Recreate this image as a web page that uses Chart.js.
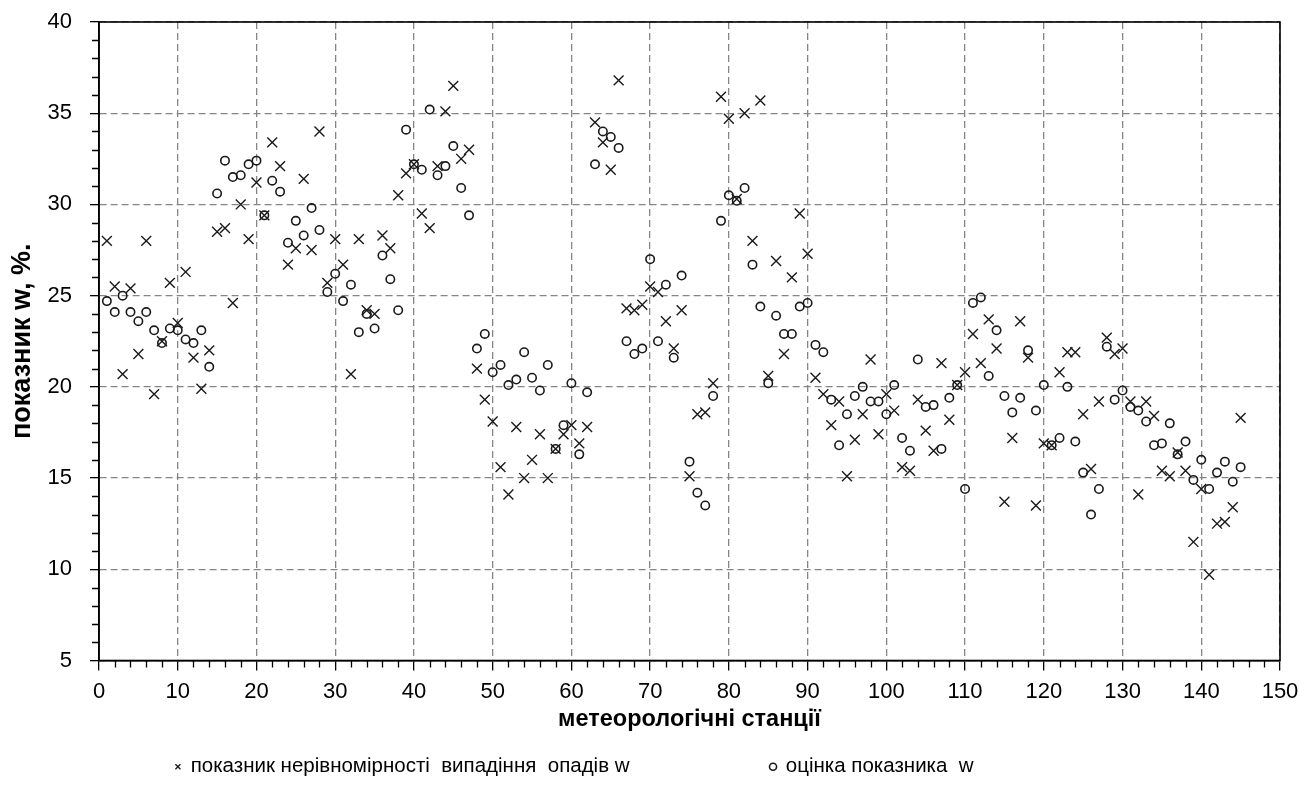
<!DOCTYPE html>
<html>
<head>
<meta charset="utf-8">
<script src="https://cdn.jsdelivr.net/npm/chart.js@4.4.1/dist/chart.umd.min.js"></script>
<style>
  html, body { margin: 0; padding: 0; background: #fff; }
  canvas { display: block; }
</style>
</head>
<body>
<canvas id="chart" width="1313" height="805"></canvas>
<script>
// номери метеостанцій (1..145)
var stations = Array.from({length: 145}, function (_, i) { return i + 1; });

// показник нерівномірності випадіння опадів w, %
var wValues = [
  28.0, 25.5, 20.7, 25.4, 21.8, 28.0, 19.6, 22.5, 25.7, 23.5,
  26.3, 21.6, 19.9, 22.0, 28.5, 28.7, 24.6, 30.0, 28.1, 31.2,
  29.4, 33.4, 32.1, 26.7, 27.6, 31.4, 27.5, 34.0, 25.7, 28.1,
  26.7, 20.7, 28.1, 24.2, 24.0, 28.3, 27.6, 30.5, 31.7, 32.2,
  29.5, 28.7, 32.1, 35.1, 36.5, 32.5, 33.0, 21.0, 19.3, 18.1,
  15.6, 14.1, 17.8, 15.0, 16.0, 17.4, 15.0, 16.6, 17.4, 17.9,
  16.9, 17.8, 34.5, 33.4, 31.9, 36.8, 24.3, 24.2, 24.5, 25.5,
  25.2, 23.6, 22.1, 24.2, 15.1, 18.5, 18.6, 20.2, 35.9, 34.7,
  30.3, 35.0, 28.0, 35.7, 20.6, 26.9, 21.8, 26.0, 29.5, 27.3,
  20.5, 19.6, 17.9, 19.2, 15.1, 17.1, 18.5, 21.5, 17.4, 19.6,
  18.7, 15.6, 15.4, 19.3, 17.6, 16.5, 21.3, 18.2, 20.1, 20.8,
  22.9, 21.3, 23.7, 22.1, 13.7, 17.2, 23.6, 21.6, 13.5, 16.9,
  16.8, 20.8, 21.9, 21.9, 18.5, 15.5, 19.2, 22.7, 21.8, 22.1,
  19.2, 14.1, 19.2, 18.4, 15.4, 15.1, 16.4, 15.4, 11.5, 14.4,
  9.7, 12.5, 12.6, 13.4, 18.3
];

// оцінка показника w, %
var wEstimate = [
  24.7, 24.1, 25.0, 24.1, 23.6, 24.1, 23.1, 22.4, 23.2, 23.1,
  22.6, 22.4, 23.1, 21.1, 30.6, 32.4, 31.5, 31.6, 32.2, 32.4,
  29.4, 31.3, 30.7, 27.9, 29.1, 28.3, 29.8, 28.6, 25.2, 26.2,
  24.7, 25.6, 23.0, 24.0, 23.2, 27.2, 25.9, 24.2, 34.1, 32.2,
  31.9, 35.2, 31.6, 32.1, 33.2, 30.9, 29.4, 22.1, 22.9, 20.8,
  21.2, 20.1, 20.4, 21.9, 20.5, 19.8, 21.2, 16.6, 17.9, 20.2,
  16.3, 19.7, 32.2, 34.0, 33.7, 33.1, 22.5, 21.8, 22.1, 27.0,
  22.5, 25.6, 21.6, 26.1, 15.9, 14.2, 13.5, 19.5, 29.1, 30.5,
  30.2, 30.9, 26.7, 24.4, 20.2, 23.9, 22.9, 22.9, 24.4, 24.6,
  22.3, 21.9, 19.3, 16.8, 18.5, 19.5, 20.0, 19.2, 19.2, 18.5,
  20.1, 17.2, 16.5, 21.5, 18.9, 19.0, 16.6, 19.4, 20.1, 14.4,
  24.6, 24.9, 20.6, 23.1, 19.5, 18.6, 19.4, 22.0, 18.7, 20.1,
  16.8, 17.2, 20.0, 17.0, 15.3, 13.0, 14.4, 22.2, 19.3, 19.8,
  18.9, 18.7, 18.1, 16.8, 16.9, 18.0, 16.3, 17.0, 14.9, 16.0,
  14.4, 15.3, 15.9, 14.8, 15.6
];

var xTicks = [0, 150, 10, 2];   // min, max, крок, дрібний крок
var yTicks = [5, 40, 5, 1];

var FONT = "'Liberation Sans', Arial, sans-serif";
var INK = '#1a1a1a';

function toPoints(vals) {
  return vals.map(function (v, i) { return {x: stations[i], y: v}; });
}

// дрібні поділки та рамка
var minorTicks = {
  id: 'minorTicks',
  afterDraw: function (chart) {
    var ctx = chart.ctx, a = chart.chartArea;
    var x = chart.scales.x, y = chart.scales.y;
    ctx.save();
    ctx.strokeStyle = '#000';
    ctx.lineWidth = 1.3;
    ctx.beginPath();
    for (var v = xTicks[0]; v <= xTicks[1]; v += xTicks[3]) {
      if (v % xTicks[2] === 0) continue;
      var px = Math.round(x.getPixelForValue(v)) + 0.5;
      ctx.moveTo(px, a.bottom);
      ctx.lineTo(px, a.bottom + 7);
    }
    for (var w = yTicks[0]; w <= yTicks[1]; w += yTicks[3]) {
      if (w % yTicks[2] === 0) continue;
      var py = Math.round(y.getPixelForValue(w)) + 0.5;
      ctx.moveTo(a.left, py);
      ctx.lineTo(a.left - 7, py);
    }
    ctx.stroke();
    ctx.lineWidth = 1.6;
    ctx.strokeRect(a.left, a.top, a.right - a.left, a.bottom - a.top);
    ctx.restore();
  }
};

var chart = new Chart(document.getElementById('chart'), {
  type: 'scatter',
  data: {
    datasets: [{
      label: 'показник нерівномірності  випадіння  опадів w',
      data: toPoints(wValues),
      pointStyle: 'crossRot',
      pointRadius: 7,
      pointBorderWidth: 1.4,
      borderColor: INK,
      backgroundColor: INK
    }, {
      label: 'оцінка показника  w',
      data: toPoints(wEstimate),
      pointStyle: 'circle',
      pointRadius: 4.2,
      pointBorderWidth: 1.6,
      borderColor: INK,
      backgroundColor: 'rgba(0,0,0,0)'
    }]
  },
  options: {
    responsive: false,
    animation: false,
    layout: { padding: { left: 0, right: 33, top: 22, bottom: 18 } },
    plugins: {
      tooltip: { enabled: false },
      legend: {
        position: 'bottom',
        labels: {
          usePointStyle: true,
          boxWidth: 5,
          boxHeight: 5,
          padding: 10,
          color: '#000',
          font: { family: FONT, size: 20.5 },
          generateLabels: function (chart) {
            var items = Chart.defaults.plugins.legend.labels.generateLabels(chart);
            items[0].text = items[0].text + '                       ';
            items[1].text = items[1].text + '                       ';
            return items;
          }
        }
      }
    },
    scales: {
      x: {
        type: 'linear',
        min: xTicks[0],
        max: xTicks[1],
        afterFit: function (s) { s.height = 86; },
        ticks: { stepSize: xTicks[2], color: '#000', padding: 8, maxRotation: 0,
                 font: { family: FONT, size: 22 } },
        grid: { color: '#858585', lineWidth: 1.3, tickLength: 10, tickColor: '#000', tickWidth: 1.3 },
        border: { color: '#000', width: 1.6, dash: [7, 4] },
        title: { display: true, text: 'метеорологічні станції', color: '#000',
                 font: { family: FONT, size: 23.5, weight: 'bold' }, padding: { top: 0, bottom: 13 } }
      },
      y: {
        min: yTicks[0],
        max: yTicks[1],
        afterFit: function (s) { s.width = 99; s.paddingTop = 0; s.paddingBottom = 0; },
        ticks: { stepSize: yTicks[2], color: '#000', padding: 18,
                 font: { family: FONT, size: 22 } },
        grid: { color: '#858585', lineWidth: 1.3, tickLength: 9, tickColor: '#000', tickWidth: 1.3 },
        border: { color: '#000', width: 1.6, dash: [7, 4] },
        title: { display: true, text: 'показник w, %.', color: '#000',
                 font: { family: FONT, size: 27, weight: 'bold' }, padding: { top: 6, bottom: 0 } }
      }
    }
  },
  plugins: [minorTicks]
});
</script>
</body>
</html>
